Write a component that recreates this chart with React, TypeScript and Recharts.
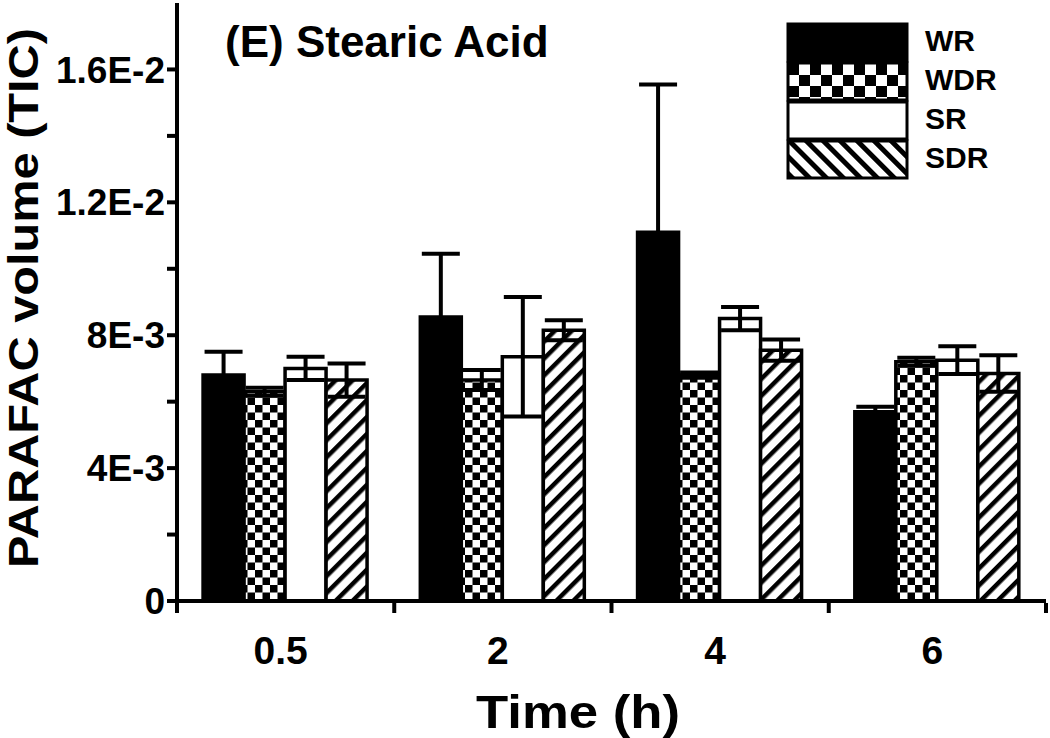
import { Bar, BarChart, XAxis, YAxis, ErrorBar, Legend } from "recharts"

const times = ["0.5", "2", "4", "6"]
const seriesNames = ["WR", "WDR", "SR", "SDR"]

const wr = [6.8e-3, 8.55e-3, 11.1e-3, 5.7e-3]
const wrErr = [0.7e-3, 1.9e-3, 4.45e-3, 0.15e-3]
const wdr = [6.3e-3, 6.65e-3, 6.8e-3, 7.2e-3]
const wdrErr = [0.12e-3, 0.3e-3, 0.08e-3, 0.12e-3]
const sr = [7.0e-3, 7.35e-3, 8.5e-3, 7.25e-3]
const srErr = [0.35e-3, 1.8e-3, 0.35e-3, 0.42e-3]
const sdr = [6.65e-3, 8.15e-3, 7.55e-3, 6.85e-3]
const sdrErr = [0.5e-3, 0.3e-3, 0.32e-3, 0.55e-3]

const yTicks = [0, 0.002, 0.004, 0.006, 0.008, 0.01, 0.012, 0.014, 0.016]
const yTickLabels: Record<string, string> = {
  "0": "0",
  "0.004": "4E-3",
  "0.008": "8E-3",
  "0.012": "1.2E-2",
  "0.016": "1.6E-2",
}

const data = times.map((t, i) => ({
  time: t,
  wr: wr[i],
  wrErr: wrErr[i],
  wdr: wdr[i],
  wdrErr: wdrErr[i],
  sr: sr[i],
  srErr: srErr[i],
  sdr: sdr[i],
  sdrErr: sdrErr[i],
}))

const W = 1050
const H = 738
const LEFT = 177
const RIGHT_M = 4
const TOP_M = 3
const X_AXIS_H = 137
const BAND = (W - LEFT - RIGHT_M) / times.length
const FONT = "'Liberation Sans', Arial, Helvetica, sans-serif"
const Y_MID = (TOP_M + H - X_AXIS_H) / 2

const XTick = (props: any) => {
  const { x, y, payload, index } = props
  const stub = (sx: number) => (
    <line x1={sx} x2={sx} y1={y} y2={y + 10} stroke="#000" strokeWidth={4} />
  )
  return (
    <g>
      {stub(x - BAND / 2)}
      {index === times.length - 1 && stub(x + BAND / 2)}
      <text x={x - 5} y={y + 61} textAnchor="middle" fontSize={39} fontWeight="bold" fontFamily={FONT} fill="#000">
        {payload.value}
      </text>
    </g>
  )
}

const legendFills = ["#000", "url(#lg-checker)", "#fff", "url(#lg-hatch)"]

const LegendBox = () => (
  <svg width={W} height={200} style={{ display: "block" }}>
    <defs>
      <pattern id="lg-checker" width={22} height={22} patternUnits="userSpaceOnUse" x={788} y={64}>
        <rect width={22} height={22} fill="#fff" />
        <rect width={11} height={11} fill="#000" />
        <rect x={11} y={11} width={11} height={11} fill="#000" />
      </pattern>
      <pattern id="lg-hatch" width={12} height={12} patternUnits="userSpaceOnUse" patternTransform="rotate(-45)">
        <rect width={12} height={12} fill="#fff" />
        <rect width={5} height={12} fill="#000" />
      </pattern>
    </defs>
    {seriesNames.map((name, i) => {
      const top = 24 + i * 39
      return (
        <g key={name}>
          <rect x={788} y={top} width={119} height={37} fill={legendFills[i]} stroke="#000" strokeWidth={3} />
          <text x={925} y={top + 27} fontSize={30} fontWeight="bold" fontFamily={FONT} fill="#000">
            {name}
          </text>
        </g>
      )
    })}
  </svg>
)

export default function App() {
  return (
    <div style={{ position: "absolute", left: 0, top: 0, width: W, height: H, background: "#fff" }}>
      <BarChart
        width={W}
        height={H}
        data={data}
        margin={{ top: TOP_M, right: RIGHT_M, left: 0, bottom: 0 }}
        barCategoryGap="12%"
        barGap={0}
      >
        <defs>
          <pattern id="checker" width={15} height={15} patternUnits="userSpaceOnUse">
            <rect width={15} height={15} fill="#fff" />
            <rect width={7.5} height={7.5} fill="#000" />
            <rect x={7.5} y={7.5} width={7.5} height={7.5} fill="#000" />
          </pattern>
          <pattern id="hatch" width={12} height={12} patternUnits="userSpaceOnUse" patternTransform="rotate(45)">
            <rect width={12} height={12} fill="#fff" />
            <rect width={4.5} height={12} fill="#000" />
          </pattern>
        </defs>
        <XAxis
          dataKey="time"
          height={X_AXIS_H}
          axisLine={{ stroke: "#000", strokeWidth: 4 }}
          tickLine={false}
          tickSize={0}
          tick={<XTick />}
          interval={0}
        />
        <XAxis
          xAxisId="top"
          dataKey="time"
          orientation="top"
          height={0}
          tick={false}
          tickLine={false}
          axisLine={{ stroke: "#000", strokeWidth: 5 }}
        />
        <YAxis
          width={LEFT}
          domain={[0, 0.018]}
          ticks={yTicks}
          interval={0}
          tickFormatter={(v: number) => yTickLabels[String(v)] ?? ""}
          axisLine={{ stroke: "#000", strokeWidth: 4 }}
          tickLine={{ stroke: "#000", strokeWidth: 4 }}
          tickSize={10}
          tickMargin={2}
          tick={{ fill: "#000", fontSize: 37, fontWeight: "bold", fontFamily: FONT }}
        />
        <YAxis
          yAxisId="right"
          orientation="right"
          width={0}
          domain={[0, 0.018]}
          tick={false}
          tickLine={false}
          axisLine={{ stroke: "#000", strokeWidth: 5 }}
        />
        <Legend
          layout="vertical"
          align="center"
          verticalAlign="middle"
          content={<LegendBox />}
          wrapperStyle={{ left: 0, top: 0, width: W, height: 200, pointerEvents: "none" }}
        />
        <Bar dataKey="wr" name="WR" fill="#000" stroke="#000" strokeWidth={3.5} isAnimationActive={false}>
          <ErrorBar dataKey="wrErr" width={19} stroke="#000" strokeWidth={4} direction="y" isAnimationActive={false} />
        </Bar>
        <Bar dataKey="wdr" name="WDR" fill="url(#checker)" stroke="#000" strokeWidth={3.5} isAnimationActive={false}>
          <ErrorBar dataKey="wdrErr" width={19} stroke="#000" strokeWidth={4} direction="y" isAnimationActive={false} />
        </Bar>
        <Bar dataKey="sr" name="SR" fill="#fff" stroke="#000" strokeWidth={3.5} isAnimationActive={false}>
          <ErrorBar dataKey="srErr" width={19} stroke="#000" strokeWidth={4} direction="y" isAnimationActive={false} />
        </Bar>
        <Bar dataKey="sdr" name="SDR" fill="url(#hatch)" stroke="#000" strokeWidth={3.5} isAnimationActive={false}>
          <ErrorBar dataKey="sdrErr" width={19} stroke="#000" strokeWidth={4} direction="y" isAnimationActive={false} />
        </Bar>
        <text x={225} y={57} fontSize={44} fontWeight="bold" fontFamily={FONT} fill="#000">
          (E) Stearic Acid
        </text>
        <text
          x={23}
          y={Y_MID - 4}
          transform={`rotate(-90 23 ${Y_MID - 4})`}
          textAnchor="middle"
          dominantBaseline="central"
          fontSize={42}
          fontWeight="bold"
          fontFamily={FONT}
          fill="#000"
          textLength={540}
          lengthAdjust="spacingAndGlyphs"
        >
          PARAFAC volume (TIC)
        </text>
        <text
          x={578}
          y={728}
          textAnchor="middle"
          fontSize={46}
          fontWeight="bold"
          fontFamily={FONT}
          fill="#000"
          textLength={204}
          lengthAdjust="spacingAndGlyphs"
        >
          Time (h)
        </text>
      </BarChart>
    </div>
  )
}
